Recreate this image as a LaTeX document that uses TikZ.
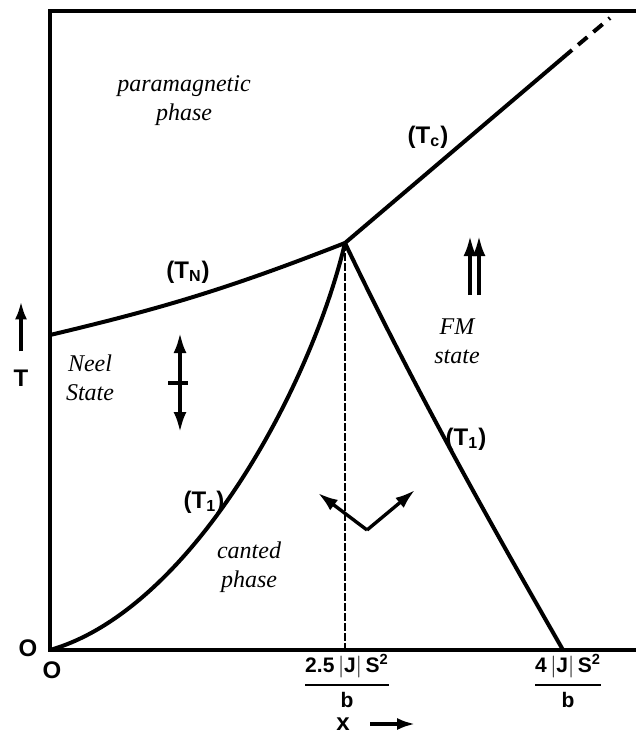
\documentclass[tikz,border=0pt]{standalone}
\usepackage{amsmath}
\usepackage{fontspec}
\setmainfont{Liberation Serif}
\setsansfont{Liberation Sans}
\usetikzlibrary{arrows.meta}

\tikzset{
  phaselabel/.style={font=\fontsize{12}{14.5}\selectfont\itshape, align=center, inner sep=0pt},
  linelabel/.style={font=\fontsize{12}{14}\selectfont\sffamily\bfseries, inner sep=0pt},
  ticklabel/.style={font=\fontsize{10.5}{12}\selectfont\sffamily\bfseries, inner sep=0pt},
  frameline/.style={line width=2.4pt, line join=miter},
  boundary/.style={line width=2pt},
  spinarrow/.style={line width=1.7pt, -{Latex[length=10pt,width=6.5pt]}},
  spinboth/.style={line width=1.7pt, {Latex[length=10pt,width=6.5pt]}-{Latex[length=10pt,width=6.5pt]}},
  axisarrow/.style={line width=1.7pt, -{Latex[length=9pt,width=6pt]}},
}
\newcommand{\TT}[1]{(T$_{\text{#1}}$)}
\newcommand{\JSb}[1]{$\genfrac{}{}{1pt}{0}{\text{#1$\,|$J$|\,$S\textsuperscript{2}}}{\text{b}}$}

\begin{document}
\begin{tikzpicture}[x=0.5pt,y=-0.5pt]
  \useasboundingbox (0,0) rectangle (636,733);
  % corners of the plot
  \coordinate (origin) at (50,650);
  \coordinate (topleft) at (50,11);
  \coordinate (topright) at (636,11);
  \coordinate (axisend) at (636,650);
  \coordinate (neelstart) at (50,335);
  \coordinate (tcp) at (345,243);
  \coordinate (tcsolid) at (572,50);
  \coordinate (tcend) at (610,18);
  \coordinate (xmid) at (345,650);
  \coordinate (xfm) at (563,650);
  % frame and axes
  \draw[frameline] (topright) -- (topleft) -- (origin) -- (axisend);
  % phase boundaries
  \draw[boundary] (neelstart) to[bend right=4] (tcp);
  \draw[boundary] (tcp) -- (tcsolid);
  \draw[boundary, dash pattern=on 6pt off 4pt, dash phase=6pt] (tcsolid) -- (tcend);
  \draw[boundary] (origin) .. controls (190,610) and (310,390) .. (tcp);
  \draw[boundary] (tcp) .. controls (420,400) and (500,540) .. (xfm);
  \draw[line width=1.2pt, dash pattern=on 4pt off 1pt] (tcp) -- (xmid);
  % phase names
  \node[phaselabel] (para) at (184,101) {paramagnetic\\phase};
  \node[phaselabel] (neel) at (90,378) {Neel\\State};
  \node[phaselabel] (fm) at (457,341) {FM\\state};
  \node[phaselabel] (cant) at (249,567) {canted\\phase};
  % line labels
  \node[linelabel] (tclab) at (428,137) {\TT{c}};
  \node[linelabel] (tnlab) at (188,272) {\TT{N}};
  \node[linelabel] (tonel) at (204,502) {\TT{1}};
  \node[linelabel] (toner) at (466,439) {\TT{1}};
  % spins
  \coordinate (neeltop) at (180,333);
  \coordinate (neelbot) at (180,432);
  \coordinate (neelmid) at (180,383);
  \draw[spinboth] (neelbot) -- (neeltop);
  \draw[line width=2.4pt] ([xshift=-6pt]neelmid) -- ([xshift=4pt]neelmid);
  \coordinate (fmlo) at (470,295);
  \coordinate (fmhi) at (470,236);
  \coordinate (fmlo2) at (479,295);
  \coordinate (fmhi2) at (479,236);
  \draw[spinarrow] (fmlo) -- (fmhi);
  \draw[spinarrow] (fmlo2) -- (fmhi2);
  \coordinate (cantv) at (367,530);
  \coordinate (cantl) at (318,493);
  \coordinate (cantr) at (415,490);
  \draw[spinarrow] (cantv) -- (cantl);
  \draw[spinarrow] (cantv) -- (cantr);
  % axis labels
  \node[linelabel] (tlabel) at (21,378) {T};
  \draw[axisarrow] ([yshift=9pt]tlabel.north) -- ++(0,-50);
  \node[linelabel] (oleft) at (28,648) {O};
  \node[linelabel] (obot) at (52,670) {O};
  \node[ticklabel] (xone) at (347,681) {\JSb{2.5}};
  \node[ticklabel] (xtwo) at (568,681) {\JSb{4}};
  \node[linelabel] (xlabel) at (343,724) {x};
  \draw[axisarrow] ([xshift=10pt]xlabel.east) -- ++(45,0);
\end{tikzpicture}
\end{document}
